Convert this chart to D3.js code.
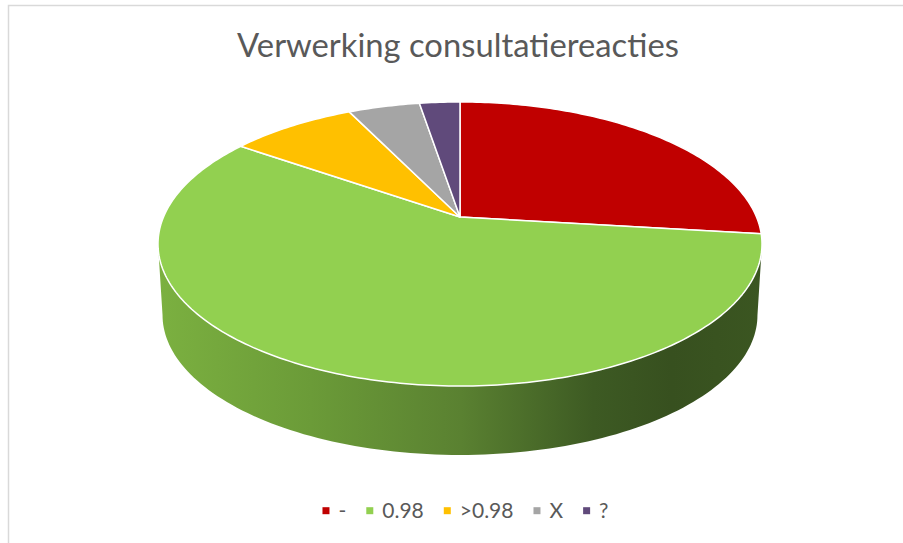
<!DOCTYPE html>
<html><head><meta charset="utf-8">
<script src="https://cdn.jsdelivr.net/npm/d3@7"></script>
<style>html,body{margin:0;padding:0;background:#fff;}svg{display:block;}</style>
</head><body>
<svg id="chart" width="903" height="543"></svg>
<script>
const title = "Verwerking consultatiereacties";
const categories = ["-", "0.98", ">0.98", "X", "?"];
const values = [26.9, 57.8, 8.1, 4.6, 2.6];
const colors = ["#c00000", "#92d050", "#ffc000", "#a5a5a5", "#604a7b"];

const svg = d3.select("#chart");
const W = 903, H = 543;

// frame
svg.append("rect").attr("x", 8.5).attr("y", 5.5).attr("width", 1000).attr("height", 1000)
  .attr("fill", "#fff").attr("stroke", "#d9d9d9").attr("stroke-width", 1.5);

// title
const t = svg.append("text").attr("x", 458).attr("y", 57).attr("text-anchor", "middle")
  .attr("font-family", "Lato, 'Open Sans', sans-serif").attr("fill", "#595959")
  .attr("font-size", 30).text(title);
const tw = t.node().getComputedTextLength();
t.attr("font-size", 30 * 442 / tw);

// perspective projection of the pie
const CX = 460, CY = 217, T = 0.19, A = 296.5, B = 136.9;
const K2 = 0.985, CY2 = 288.5;
function proj(theta, bottom) {
  const w = 1 + T * Math.cos(theta);
  const a = bottom ? A * K2 : A, b = bottom ? B * K2 : B, cy = bottom ? CY2 : CY;
  return [CX + a * Math.sin(theta) / w, cy - b * Math.cos(theta) / w];
}

const pie = d3.pie().sort(null).value(d => d).startAngle(0).endAngle(2 * Math.PI);
const arcs = pie(values);

// gradient for wall
const defs = svg.append("defs");
const grad = defs.append("linearGradient").attr("id", "wall").attr("gradientUnits", "userSpaceOnUse")
  .attr("x1", 160).attr("x2", 762).attr("y1", 0).attr("y2", 0);
[[0, "#7bb040"], [0.25, "#6b9b38"], [0.5, "#5a8131"], [0.72, "#3d5a23"], [0.85, "#37501f"], [1, "#3b5621"]]
  .forEach(([o, c]) => grad.append("stop").attr("offset", o).attr("stop-color", c));

const line = d3.line();
// side wall (visible front part)
const thA = Math.acos(-T), thB = 2 * Math.PI - thA;
arcs.forEach((a, i) => {
  const s = Math.max(a.startAngle, thA), e = Math.min(a.endAngle, thB);
  if (e <= s) return;
  const n = 120;
  const pts = [];
  for (let k = 0; k <= n; k++) pts.push(proj(s + (e - s) * k / n, false));
  for (let k = n; k >= 0; k--) pts.push(proj(s + (e - s) * k / n, true));
  svg.append("path").attr("d", line(pts) + "Z").attr("fill", i === 1 ? "url(#wall)" : d3.color(colors[i]).darker(0.8));
});

// top face slices
arcs.forEach((a, i) => {
  const n = Math.max(8, Math.ceil((a.endAngle - a.startAngle) * 60));
  const pts = [[CX, CY]];
  for (let k = 0; k <= n; k++) pts.push(proj(a.startAngle + (a.endAngle - a.startAngle) * k / n, false));
  svg.append("path").attr("d", line(pts) + "Z").attr("fill", colors[i])
    .attr("stroke", "#fff").attr("stroke-width", 1.5).attr("stroke-linejoin", "round");
});

// legend
const lg = svg.append("g");
let x = 0;
const items = [];
categories.forEach((c, i) => {
  const g = lg.append("g");
  g.append("rect").attr("x", x).attr("y", -3.5).attr("width", 7).attr("height", 7).attr("fill", colors[i]);
  const tx = g.append("text").attr("x", x + 16).attr("y", 7.5)
    .attr("font-family", "Lato, 'Open Sans', sans-serif").attr("font-size", 21).attr("fill", "#595959").text(c);
  x += 16 + tx.node().getComputedTextLength() + 20;
});
const total = x - 20;
lg.attr("transform", `translate(${465.5 - total / 2},510.7)`);
</script>
</body></html>
